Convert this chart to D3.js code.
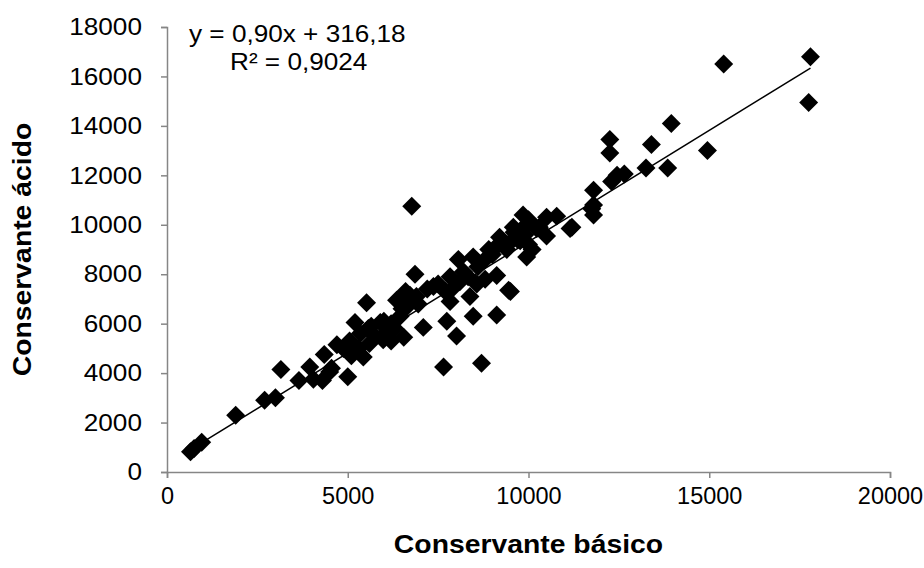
<!DOCTYPE html>
<html lang="pt">
<head>
    <meta charset="UTF-8">
    <title>Conservante básico vs ácido</title>
    <script src="https://d3js.org/d3.v7.min.js"></script>
    <style>
        body { margin: 0; background: #fff; }
        svg text { font-family: "Liberation Sans", Arial, sans-serif; fill: #000; }
    </style>
</head>
<body>
    <script>
        // valores (conservante básico, conservante ácido)
        const basico = [650, 750, 960, 1900, 2700, 3000, 3150, 3650, 3950, 4050, 4300, 4350, 4500, 4550, 4700, 4880,
            5000, 5050, 5200, 5300, 5430, 5520, 5570, 5600, 5750, 5900, 5980, 6100, 6200, 6350, 6550, 6500, 6600,
            6720, 6770, 6860, 6950, 7090, 7200, 7370, 7650, 7740, 7830, 7830, 7880, 8010, 8060, 8330, 8380, 8470,
            8470, 8570, 8700, 8900, 9120, 9120, 9200, 9300, 9450, 9500, 9580, 9600, 9700, 9770, 9850, 9950, 10000,
            10100, 10230, 10300, 10500, 10500, 10780, 11150, 11200, 11750, 11800, 11800, 11800, 12250, 12250, 12300,
            12450, 12650, 13250, 13400, 13850, 13950, 14950, 15400, 17800, 17750,
            5350, 5650, 6000, 6300, 6450, 6650, 6900, 7500, 7700, 8100, 8200, 8600, 8800, 9000, 9100, 9400, 9500,
            9800, 10000, 9900, 8800, 6200, 5100];
        const acido = [820, 950, 1200, 2300, 2900, 3000, 4150, 3700, 4250, 3750, 3700, 4750, 4050, 4200, 5150, 5000,
            3850, 5300, 6050, 5000, 4650, 6850, 5800, 5200, 5500, 6050, 5350, 5700, 6000, 6950, 5450, 6600, 7300,
            7150, 10750, 8000, 6800, 5850, 7400, 7500, 4250, 6100, 6900, 7900, 7400, 5500, 8600, 7900, 7100, 6300,
            8700, 7600, 4400, 9000, 6350, 7950, 9500, 9200, 7350, 7300, 9900, 9700, 9400, 9350, 10400, 8700, 9200,
            9000, 9850, 9900, 9550, 10300, 10350, 9850, 9900, 10650, 10400, 10800, 11400, 13450, 12900, 11750,
            12000, 12050, 12300, 13250, 12300, 14100, 13000, 16500, 16800, 14950,
            5600, 5900, 6100, 5800, 6300, 6700, 7100, 7600, 7300, 7700, 8100, 8300, 8600, 8800, 9100, 9000, 9300,
            9800, 10200, 9600, 7800, 5300, 4700];

        const xTicks = [0, 5000, 10000, 15000, 20000];
        const yTicks = [0, 2000, 4000, 6000, 8000, 10000, 12000, 14000, 16000, 18000];
        const slope = 0.90, intercept = 316.18;
        const eqText = "y = 0,90x + 316,18";
        const r2Text = "R² = 0,9024";

        const width = 924, height = 568;
        const margin = {left: 167, right: 34, top: 27, bottom: 96};
        const stretch = 1.09; // o texto do original é um pouco mais largo

        const svg = d3.select("body").append("svg")
            .attr("width", width)
            .attr("height", height);

        const x = d3.scaleLinear().domain([0, 20000]).range([margin.left, width - margin.right]);
        const y = d3.scaleLinear().domain([0, 18000]).range([height - margin.bottom, margin.top]);

        const axisColor = "#868686";

        const gx = svg.append("g")
            .attr("transform", `translate(0,${height - margin.bottom})`)
            .call(d3.axisBottom(x).tickValues(xTicks).tickSize(6).tickPadding(9).tickFormat(d3.format("d")));
        const gy = svg.append("g")
            .attr("transform", `translate(${margin.left},0)`)
            .call(d3.axisLeft(y).tickValues(yTicks).tickSize(6).tickPadding(17).tickFormat(d3.format("d")));

        [gx, gy].forEach(g => {
            g.select(".domain").attr("stroke", axisColor).attr("stroke-width", 1.5);
            g.selectAll(".tick line").attr("stroke", axisColor).attr("stroke-width", 1.5);
            g.selectAll(".tick text").attr("fill", "#000")
                .style("font-family", "Liberation Sans, Arial, sans-serif");
        });
        gy.selectAll(".tick text").attr("font-size", 24).attr("transform", `scale(${stretch},1)`);
        // o último rótulo encosta na borda direita: sem esticar
        gx.selectAll(".tick text").attr("font-size", 23.5);

        const pts = basico.map((b, i) => ({x: b, y: acido[i]}));

        svg.append("g").selectAll("path")
            .data(pts)
            .enter().append("path")
            .attr("d", d3.symbol().type(d3.symbolSquare).size(180))
            .attr("transform", d => `translate(${x(d.x)},${y(d.y)}) rotate(45)`)
            .attr("fill", "#000");

        // linha de tendência
        const xExt = d3.extent(basico);
        svg.append("line")
            .attr("x1", x(xExt[0])).attr("y1", y(slope * xExt[0] + intercept))
            .attr("x2", x(xExt[1])).attr("y2", y(slope * xExt[1] + intercept))
            .attr("stroke", "#000").attr("stroke-width", 1.5);

        svg.append("text")
            .attr("transform", `translate(189,42) scale(${stretch},1)`)
            .attr("font-size", 24)
            .text(eqText);
        svg.append("text")
            .attr("transform", `translate(230,70) scale(${stretch},1)`)
            .attr("font-size", 24)
            .text(r2Text);

        svg.append("text")
            .attr("transform", `translate(${(margin.left + width - margin.right) / 2},553) scale(${stretch},1)`)
            .attr("text-anchor", "middle")
            .attr("font-size", 26)
            .attr("font-weight", "bold")
            .text("Conservante básico");

        svg.append("text")
            .attr("transform", `translate(31,${(margin.top + height - margin.bottom) / 2}) rotate(-90) scale(${stretch},1)`)
            .attr("text-anchor", "middle")
            .attr("font-size", 26)
            .attr("font-weight", "bold")
            .text("Conservante ácido");
    </script>
</body>
</html>
